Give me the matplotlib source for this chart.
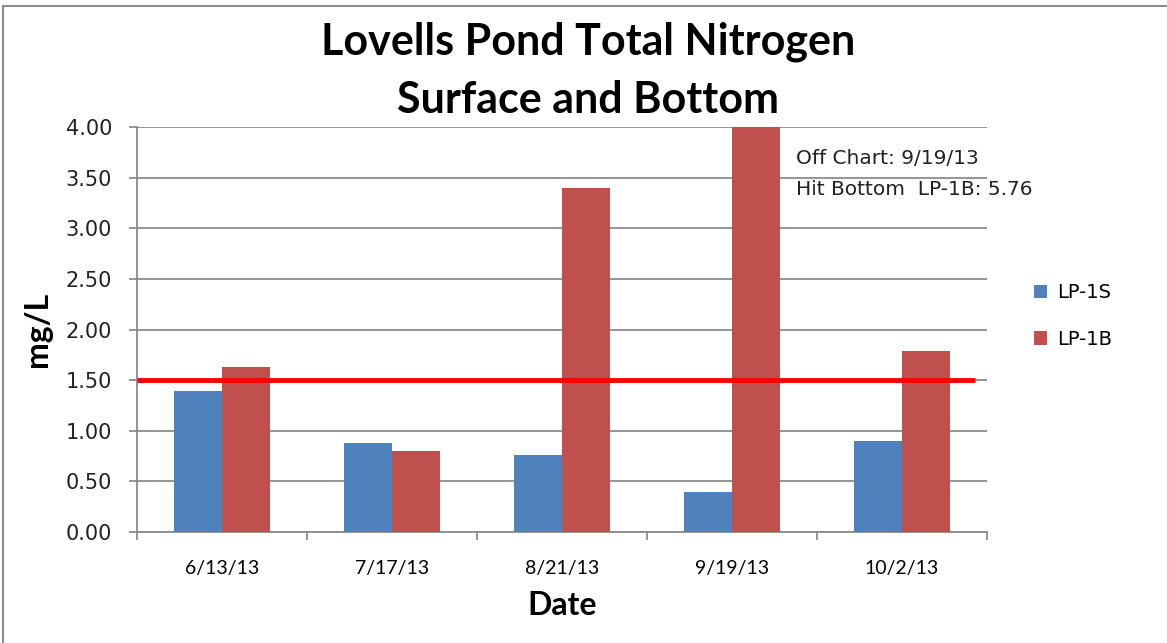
import matplotlib.pyplot as plt
import numpy as np
from matplotlib.patches import Rectangle

dates = ["6/13/13", "7/17/13", "8/21/13", "9/19/13", "10/2/13"]
surface = [1.39, 0.88, 0.76, 0.40, 0.90]
bottom = [1.63, 0.80, 3.40, 5.76, 1.79]
threshold = 1.5
yticks = [0.0, 0.5, 1.0, 1.5, 2.0, 2.5, 3.0, 3.5, 4.0]

plt.rcParams['font.family'] = ['Lato', 'DejaVu Sans']
wide = ['DejaVu Sans']

fig = plt.figure(figsize=(11.67, 6.43), dpi=100)
ax = fig.add_axes([137 / 1167, 1 - 532 / 643, 850 / 1167, 405 / 643])

# outer chart border
fig.patches.append(Rectangle((3 / 1167, -0.1), 1.2, 1 - 6 / 643 + 0.1,
                             transform=fig.transFigure, fill=False,
                             edgecolor="#8c8c8c", linewidth=1.5))

x = np.arange(len(dates))
w = 0.282
ax.bar(x - w / 2, surface, w, color="#4f81bd", label="LP-1S", zorder=3)
ax.bar(x + w / 2, bottom, w, color="#c0504d", label="LP-1B", zorder=3)

ax.plot([-0.5, len(dates) - 0.57], [threshold, threshold], color="#ff0000",
        linewidth=3.5, zorder=4, solid_capstyle="butt")

ax.set_xlim(-0.5, len(dates) - 0.5)
ax.set_ylim(0, 4.0)
ax.set_yticks(yticks)
ax.set_yticklabels([f"{v:.2f}" for v in yticks], fontsize=15, family=wide,
                   color="#222222")
ax.yaxis.grid(True, color="#8c8c8c", linewidth=1.3, zorder=0)
ax.set_axisbelow(True)

ax.set_xticks(x)
ax.set_xticklabels(dates, fontsize=14)
ax.set_xticks(np.arange(-0.5, len(dates)), minor=True)
ax.tick_params(axis="x", which="major", length=0, pad=20)
ax.tick_params(axis="x", which="minor", length=6, color="#8c8c8c", width=1.3)
ax.tick_params(axis="y", length=6, color="#8c8c8c", width=1.3, pad=12)

for s in ["top", "right"]:
    ax.spines[s].set_visible(False)
for s in ["left", "bottom"]:
    ax.spines[s].set_color("#8c8c8c")
    ax.spines[s].set_linewidth(1.3)

ax.set_xlabel("Date", fontsize=23, fontweight="bold", labelpad=10)
ax.set_ylabel("mg/L", fontsize=23, fontweight="bold", labelpad=10)

fig.text(588 / 1167, 1 - 42 / 643, "Lovells Pond Total Nitrogen", ha="center",
         va="center", fontsize=31, fontweight="bold")
fig.text(588 / 1167, 1 - 100 / 643, "Surface and Bottom", ha="center",
         va="center", fontsize=31, fontweight="bold")

ax.text(796 / 1167, 1 - 158 / 643, "Off Chart: 9/19/13", transform=fig.transFigure,
        fontsize=14.5, va="center", color="#222222", family=wide)
ax.text(796 / 1167, 1 - 190 / 643, "Hit Bottom  LP-1B: 5.76", transform=fig.transFigure,
        fontsize=14.5, va="center", color="#222222", family=wide)

fig.legend(loc="center left", bbox_to_anchor=(1016 / 1167, 1 - 316 / 643),
           frameon=False, prop={"family": wide, "size": 14},
           handlelength=0.7, handleheight=0.7, handletextpad=0.5, labelspacing=1.4)

fig.savefig("out.png", dpi=100)
